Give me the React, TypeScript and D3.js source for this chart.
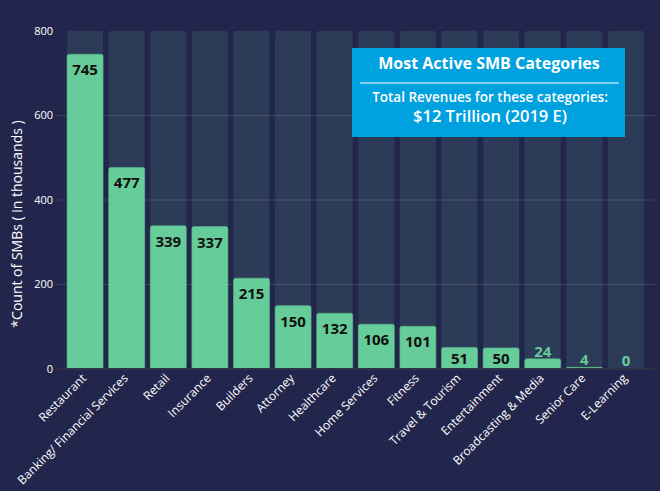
import React from "react";
import * as d3 from "d3";

const categories = [
  "Restaurant",
  "Banking/ Financial Services",
  "Retail",
  "Insurance",
  "Builders",
  "Attorney",
  "Healthcare",
  "Home Services",
  "Fitness",
  "Travel & Tourism",
  "Entertainment",
  "Broadcasting & Media",
  "Senior Care",
  "E-Learning",
];
const values = [745, 477, 339, 337, 215, 150, 132, 106, 101, 51, 50, 24, 4, 0];
const yTicks = [0, 200, 400, 600, 800];
const yMax = 800;
const yTitle = "*Count of SMBs ( in thousands )";
const boxTitle = "Most Active SMB Categories";
const boxLine1 = "Total Revenues for these categories:";
const boxLine2 = "$12 Trillion (2019 E)";

const W = 660;
const H = 491;
const BG = "#23264c";
const TRACK = "#2c3b57";
const GREEN = "#66cc99";
const BLUE = "#00a1df";
const FONT = "'Open Sans', sans-serif";

export default function App() {
  const x = d3
    .scaleBand<string>()
    .domain(categories)
    .range([57, 654])
    .paddingInner(0.135)
    .paddingOuter(0.2425);
  const y = d3.scaleLinear().domain([0, yMax]).range([369, 31]);
  const bw = x.bandwidth();
  const base = y(0);

  return (
    <svg
      width={W}
      height={H}
      style={{ position: "absolute", left: 0, top: 0, display: "block" }}
    >
      <rect x={0} y={0} width={W} height={H} fill={BG} />
      {categories.map((c) => (
        <rect
          key={"t" + c}
          x={x(c)}
          y={y(yMax)}
          width={bw}
          height={base - y(yMax)}
          rx={2}
          fill={TRACK}
        />
      ))}
      {yTicks
        .filter((t) => t > 0 && t < yMax)
        .map((t) => (
          <line
            key={"g" + t}
            x1={57}
            x2={655}
            y1={y(t)}
            y2={y(t)}
            stroke="rgba(255,255,255,0.13)"
            strokeWidth={1}
          />
        ))}
      {yTicks.map((t) => (
        <text
          key={"yl" + t}
          x={53}
          y={y(t)}
          dy="0.35em"
          textAnchor="end"
          fill="#ffffff"
          fontFamily={FONT}
          fontSize={11}
        >
          {t}
        </text>
      ))}
      {categories.map((c, i) => {
        const v = values[i];
        const top = y(v);
        const h = base - top;
        return h > 0 ? (
          <rect
            key={"b" + c}
            x={x(c)}
            y={top}
            width={bw}
            height={h}
            rx={Math.min(2, h / 2)}
            fill={GREEN}
            stroke="#5ab98a"
            strokeWidth={0.6}
          />
        ) : null;
      })}
      <line x1={57} x2={655} y1={base} y2={base} stroke="#2f3147" strokeWidth={2} />
      {categories.map((c, i) => {
        const v = values[i];
        const top = y(v);
        const h = base - top;
        const cx = (x(c) as number) + bw / 2;
        const inside = h > 18;
        const ly = inside
          ? Math.min(top + 21, (top + base) / 2 + 5.5)
          : Math.min(top - 2, base - 3);
        return (
          <text
            key={"v" + c}
            x={cx}
            y={ly}
            textAnchor="middle"
            fill={inside ? "#111111" : GREEN}
            fontFamily={FONT}
            fontWeight={700}
            fontSize={15}
          >
            {v}
          </text>
        );
      })}
      {categories.map((c) => {
        const cx = (x(c) as number) + bw / 2 + 2;
        return (
          <text
            key={"x" + c}
            transform={`translate(${cx},${base + 10}) rotate(-45)`}
            textAnchor="end"
            fill="#ffffff"
            fontFamily={FONT}
            fontSize={12}
          >
            {c}
          </text>
        );
      })}
      <text
        transform={`translate(22,${224}) rotate(-90)`}
        textAnchor="middle"
        fill="#ffffff"
        fontFamily={FONT}
        fontSize={14}
      >
        {yTitle}
      </text>
      <rect x={352} y={48} width={273} height={89} fill={BLUE} />
      <text
        x={489}
        y={69}
        textAnchor="middle"
        fill="#ffffff"
        fontFamily={FONT}
        fontWeight={700}
        fontSize={16}
      >
        {boxTitle}
      </text>
      <line x1={360} x2={619} y1={83} y2={83} stroke="#ffffff" strokeWidth={1} />
      <text
        x={490}
        y={102}
        textAnchor="middle"
        fill="#ffffff"
        fontFamily={FONT}
        fontWeight={600}
        fontSize={13.5}
      >
        {boxLine1}
      </text>
      <text
        x={490}
        y={122}
        textAnchor="middle"
        fill="#ffffff"
        fontFamily={FONT}
        fontWeight={600}
        fontSize={16.5}
      >
        {boxLine2}
      </text>
    </svg>
  );
}
